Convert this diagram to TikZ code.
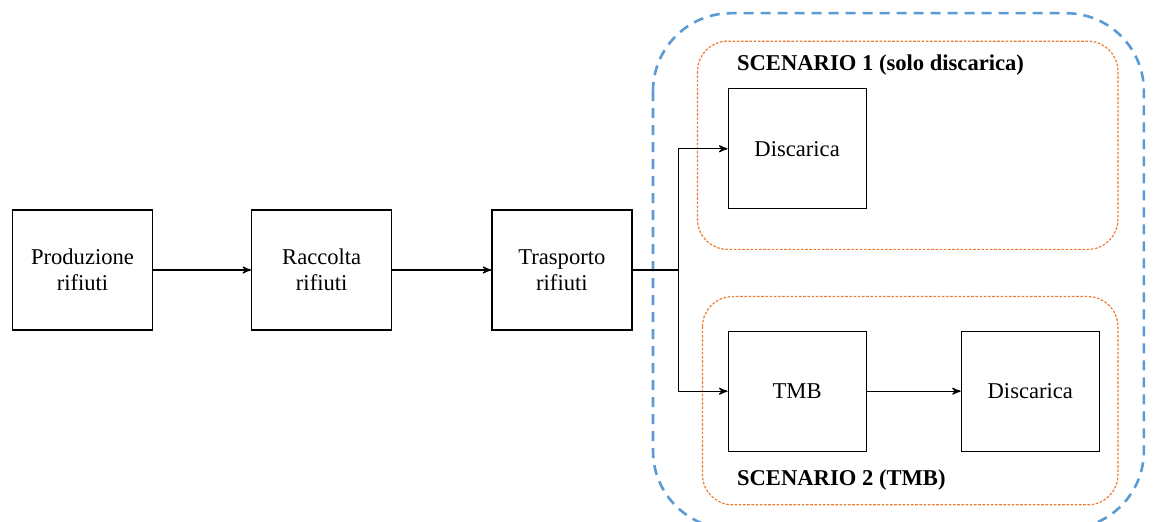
\documentclass[tikz,border=0pt]{standalone}
\usepackage{fontspec}
\setmainfont{Liberation Serif}
\usetikzlibrary{arrows,positioning,calc}
\definecolor{scenblue}{HTML}{5B9BD5}
\definecolor{scenorange}{HTML}{ED7D31}

\begin{document}
\begin{tikzpicture}[->,>=stealth',node distance=49pt,semithick,
    font=\fontsize{11.3}{13}\selectfont]
  \tikzstyle{block}=[draw,rectangle,minimum width=70pt,minimum height=60pt,align=center]
  \tikzstyle{scenario}=[draw=scenorange,line width=0.6pt,dash pattern=on 1.3pt off 0.8pt,rounded corners=15pt]
  \tikzstyle{boundary}=[draw=scenblue,line width=1.3pt,dash pattern=on 5pt off 3.5pt,rounded corners=39pt]
  \tikzstyle{title}=[font=\fontsize{11.3}{13}\selectfont\bfseries,anchor=base west,inner sep=0pt]
  \useasboundingbox (0,0) rectangle (579.5pt,-261pt);

  \node[block] (prod)                                      at (41.25pt,-135pt) {Produzione\\rifiuti};
  \node[block] (racc)  [right=of prod]                     {Raccolta\\rifiuti};
  \node[block] (trasp) [right=49.5pt of racc]              {Trasporto\\rifiuti};
  \node[block,minimum width=69pt] (disc1) [above right=0pt and 47.5pt of trasp] {Discarica};
  \node[block,minimum width=69pt] (tmb)   [below right=0pt and 47.5pt of trasp] {TMB};
  \node[block,minimum width=69pt] (disc2) [right=47pt of tmb]                   {Discarica};
  \coordinate[right=23pt of trasp] (split);

  % scenario frames
  \draw[-,boundary] ($(trasp.east |- disc1.north)+(10.25pt,37.5pt)$) rectangle ($(disc2.south east)+(22pt,-38.5pt)$);
  \draw[-,scenario] ($(disc1.north west)+(-15pt,23.5pt)$) rectangle ($(disc2.east |- disc1.south)+(9pt,-20pt)$);
  \draw[-,scenario] ($(tmb.north west)+(-12.5pt,17pt)$) rectangle ($(disc2.south east)+(9pt,-26.5pt)$);
  \node[title] (scen1) at ($(disc1.north west)+(4.5pt,9pt)$) {SCENARIO 1 (solo discarica)};
  \node[title] (scen2) at ($(tmb.south west)+(4.5pt,-17pt)$) {SCENARIO 2 (TMB)};

  \path (prod)  edge (racc)
        (racc)  edge (trasp)
        (tmb)   edge (disc2);
  \draw[-] (trasp) -- (split);
  \draw (split) |- (disc1);
  \draw (split) |- (tmb);
\end{tikzpicture}
\end{document}
